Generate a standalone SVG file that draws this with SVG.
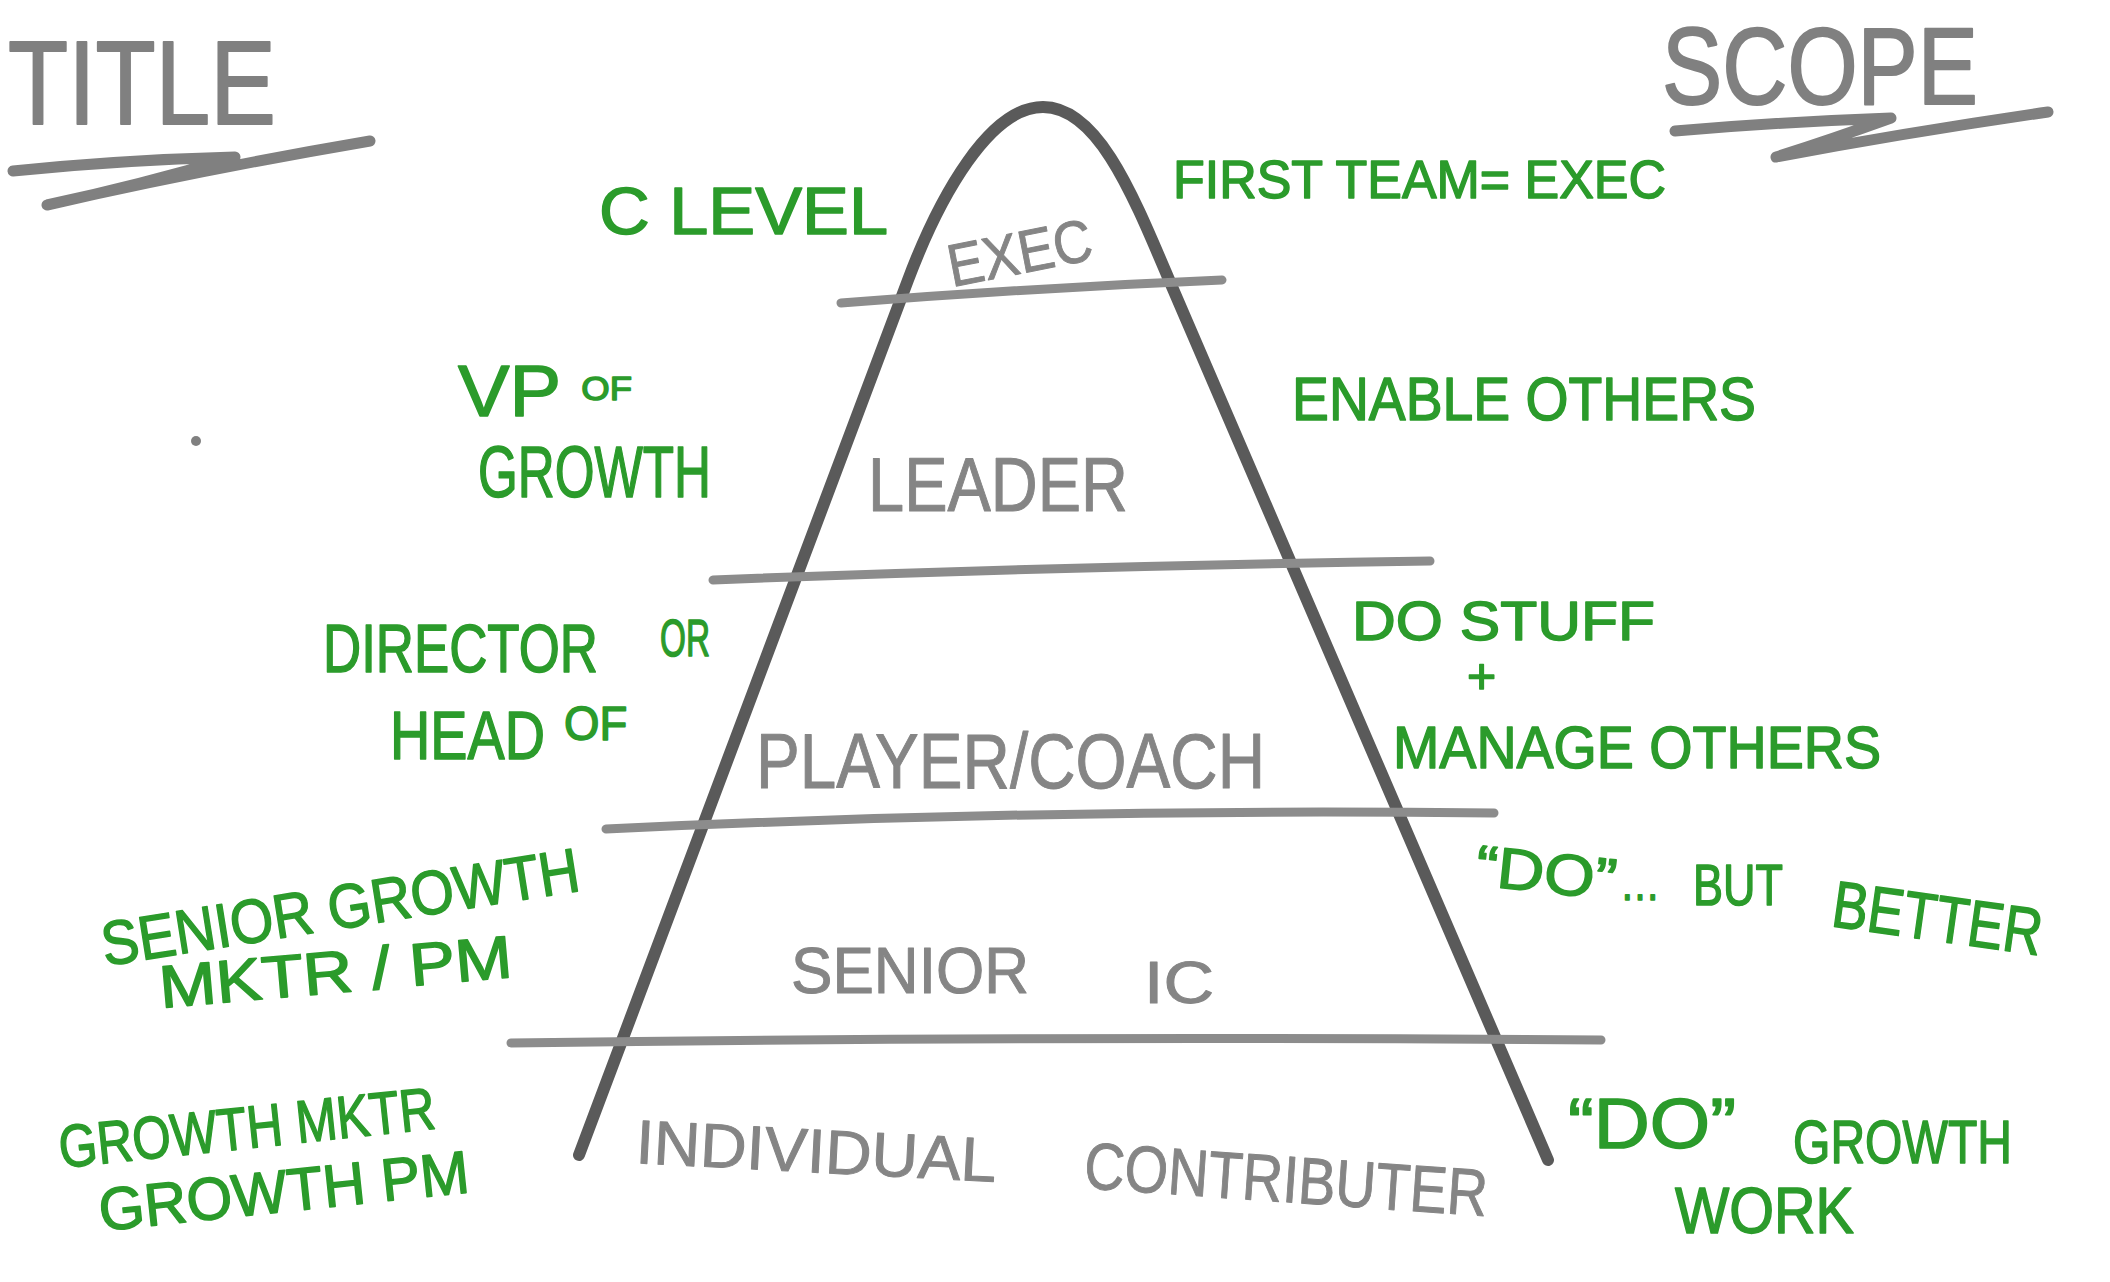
<svg xmlns="http://www.w3.org/2000/svg" width="2110" height="1282" viewBox="0 0 2110 1282">
<style>
text{font-family:"Liberation Sans","DejaVu Sans",sans-serif;stroke-linejoin:round}
.hd{fill:#808080;stroke:#808080;stroke-width:2}
.gl{fill:#858585;stroke:#858585;stroke-width:1}
.gr{fill:#2b9b2b;stroke:#2b9b2b;stroke-width:1.5}
.pyr{fill:none;stroke:#5a5a5a;stroke-width:12;stroke-linecap:round;stroke-linejoin:round}
.tier{fill:none;stroke:#8c8c8c;stroke-width:9;stroke-linecap:round}
.ul{fill:none;stroke:#808080;stroke-width:11;stroke-linecap:round;stroke-linejoin:round}
</style>
<rect width="2110" height="1282" fill="#ffffff"/>
<g id="title">
<text class="hd" x="8" y="124" font-size="118" textLength="268" lengthAdjust="spacingAndGlyphs">TITLE</text>
<path class="ul" d="M13,171 Q120,160 235,157 Q140,185 47,205 Q200,170 370,141"/>
</g>
<g id="scope">
<text class="hd" x="1662" y="104" font-size="110" textLength="316" lengthAdjust="spacingAndGlyphs">SCOPE</text>
<path class="ul" d="M1675,131 Q1780,122 1891,118 Q1830,140 1776,157 Q1910,132 2048,112"/>
</g>
<circle id="dot" cx="196" cy="441" r="5" fill="#808080"/>
<g id="pyramid">
<path class="pyr" d="M579,1155 L908,280 C940,195 990,107 1043,107 C1098,107 1133,195 1170,282 L1548,1160"/>
</g>
<g id="connectors">
<path class="tier" d="M841,303 Q1030,288 1222,280"/>
<path class="tier" d="M713,580 Q1070,566 1430,561"/>
<path class="tier" d="M606,829 Q1050,808 1494,813"/>
<path class="tier" d="M511,1043 Q1050,1036 1601,1040"/>
</g>
<g id="tier-exec">
<text class="gl" x="952" y="287" font-size="60" textLength="146" lengthAdjust="spacingAndGlyphs" transform="rotate(-11 952 287)">EXEC</text>
</g>
<g id="tier-leader">
<text class="gl" x="868" y="511" font-size="76" textLength="260" lengthAdjust="spacingAndGlyphs">LEADER</text>
</g>
<g id="tier-player">
<text class="gl" x="756" y="788" font-size="78" textLength="509" lengthAdjust="spacingAndGlyphs">PLAYER/COACH</text>
</g>
<g id="tier-senior">
<text class="gl" x="791" y="993" font-size="64" textLength="238" lengthAdjust="spacingAndGlyphs">SENIOR</text>
<text class="gl" x="1144" y="1003" font-size="60" textLength="70" lengthAdjust="spacingAndGlyphs">IC</text>
</g>
<g id="tier-ic">
<text class="gl" x="635" y="1163" font-size="62" textLength="361" lengthAdjust="spacingAndGlyphs" transform="rotate(3 635 1163)">INDIVIDUAL</text>
<text class="gl" x="1083" y="1188" font-size="66" textLength="404" lengthAdjust="spacingAndGlyphs" transform="rotate(4 1083 1188)">CONTRIBUTER</text>
</g>
<g id="role-c-level">
<text class="gr" x="599" y="234" font-size="66" textLength="289" lengthAdjust="spacingAndGlyphs">C LEVEL</text>
</g>
<g id="role-vp">
<text class="gr" x="458" y="416" font-size="72" textLength="174" lengthAdjust="spacingAndGlyphs">VP <tspan font-size="34" dy="-16">OF</tspan></text>
<text class="gr" x="478" y="497" font-size="72" textLength="233" lengthAdjust="spacingAndGlyphs">GROWTH</text>
</g>
<g id="role-director">
<text class="gr" x="0" y="0" font-size="68" transform="translate(323 672) scale(0.777 1)">DIRECTOR</text>
<text class="gr" x="0" y="0" font-size="52" transform="translate(660 656) scale(0.64 1)">OR</text>
<text class="gr" x="0" y="0" font-size="68" transform="translate(390 759) scale(0.82 1)">HEAD</text>
<text class="gr" x="0" y="0" font-size="48" transform="translate(564 740) scale(0.95 1)">OF</text>
</g>
<g id="role-senior">
<text class="gr" x="105" y="966" font-size="62" textLength="483" lengthAdjust="spacingAndGlyphs" transform="rotate(-9 105 966)">SENIOR GROWTH</text>
<text class="gr" x="161" y="1008" font-size="60" textLength="354" lengthAdjust="spacingAndGlyphs" transform="rotate(-5 161 1008)">MKTR / PM</text>
</g>
<g id="role-ic">
<text class="gr" x="61" y="1168" font-size="60" textLength="378" lengthAdjust="spacingAndGlyphs" transform="rotate(-6 61 1168)">GROWTH MKTR</text>
<text class="gr" x="101" y="1231" font-size="60" textLength="372" lengthAdjust="spacingAndGlyphs" transform="rotate(-6 101 1231)">GROWTH PM</text>
</g>
<g id="scope-exec">
<text class="gr" x="1173" y="198" font-size="54" textLength="493" lengthAdjust="spacingAndGlyphs">FIRST TEAM= EXEC</text>
</g>
<g id="scope-leader">
<text class="gr" x="1292" y="420" font-size="62" textLength="464" lengthAdjust="spacingAndGlyphs">ENABLE OTHERS</text>
</g>
<g id="scope-player">
<text class="gr" x="1352" y="640" font-size="56" textLength="303" lengthAdjust="spacingAndGlyphs">DO STUFF</text>
<text class="gr" x="1467" y="693" font-size="50">+</text>
<text class="gr" x="1393" y="768" font-size="60" textLength="488" lengthAdjust="spacingAndGlyphs">MANAGE OTHERS</text>
</g>
<g id="scope-senior">
<text class="gr" x="1474" y="885" font-size="58" textLength="141" lengthAdjust="spacingAndGlyphs" transform="rotate(6 1474 885)">“DO”</text>
<text class="gr" x="1620" y="900" font-size="50" textLength="40" lengthAdjust="spacingAndGlyphs">…</text>
<text class="gr" x="1693" y="905" font-size="58" textLength="90" lengthAdjust="spacingAndGlyphs">BUT</text>
<text class="gr" x="1830" y="926" font-size="66" textLength="211" lengthAdjust="spacingAndGlyphs" transform="rotate(8 1830 926)">BETTER</text>
</g>
<g id="scope-ic">
<text class="gr" x="1568" y="1148" font-size="70" textLength="168" lengthAdjust="spacingAndGlyphs">“DO”</text>
<text class="gr" x="1793" y="1163" font-size="62" textLength="219" lengthAdjust="spacingAndGlyphs">GROWTH</text>
<text class="gr" x="1675" y="1233" font-size="64" textLength="179" lengthAdjust="spacingAndGlyphs">WORK</text>
</g>
</svg>
